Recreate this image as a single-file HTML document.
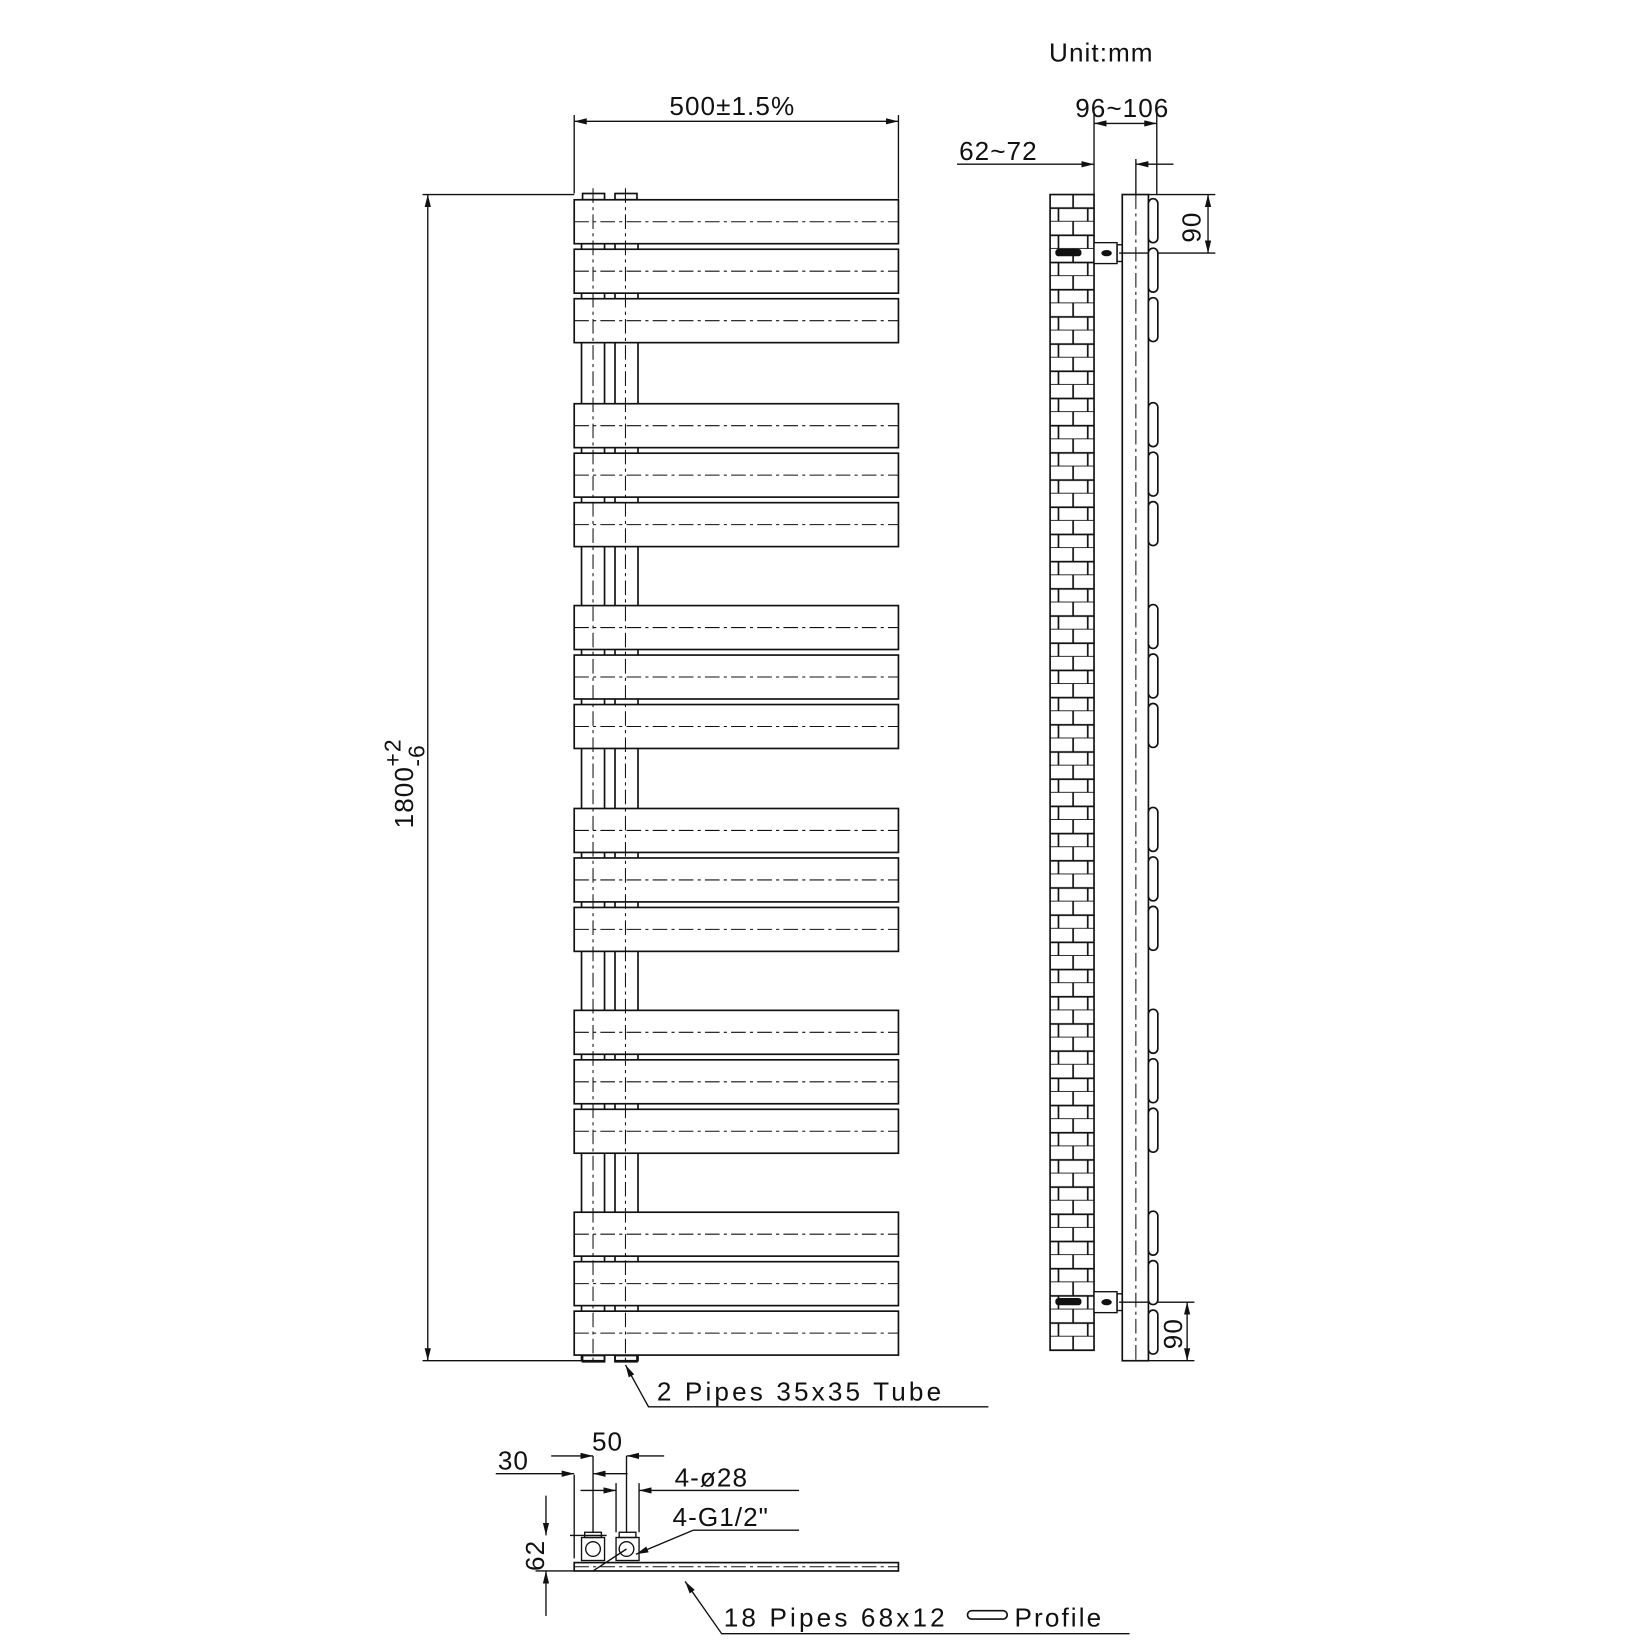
<!DOCTYPE html>
<html><head><meta charset="utf-8"><style>
html,body{margin:0;padding:0;background:#fff;width:1640px;height:1640px;overflow:hidden}
svg{display:block}
text{font-family:"Liberation Sans",sans-serif;font-size:25px;fill:#111;letter-spacing:1px}
</style></head><body>
<svg width="1640" height="1640" viewBox="0 0 1568 1568" xmlns="http://www.w3.org/2000/svg">
<defs>
<marker id="a" viewBox="0 0 12 6" refX="12" refY="3" markerWidth="12" markerHeight="6" orient="auto-start-reverse" markerUnits="userSpaceOnUse"><path d="M0,0 L12,3 L0,6z" fill="#111"/></marker>
<pattern id="brick" x="1004" y="186" width="42" height="26" patternUnits="userSpaceOnUse">
<rect width="42" height="26" fill="#fff"/>
<path d="M0,13H42M0,26H42M22,0V13M8,13V26M36,13V26" stroke="#111" stroke-width="1.6" fill="none"/>
</pattern>
</defs>
<g stroke="#111" stroke-width="1.6" fill="none">
<!-- pipes front -->
<rect x="556" y="191" width="22" height="1110" fill="#fff"/>
<rect x="588" y="191" width="22" height="1110" fill="#fff"/>
<rect x="557" y="185" width="21" height="6"/>
<rect x="588" y="185" width="21" height="6"/>
<rect x="557" y="1296" width="21" height="6"/>
<rect x="588" y="1296" width="21" height="6"/>
</g>
<g id="bars" stroke="#111" stroke-width="1.6" fill="#fff">
</g>
<g stroke="#111" stroke-width="1" fill="none" stroke-dasharray="14,4,3,4">
<line x1="567" y1="180" x2="567" y2="1305"/>
<line x1="598" y1="180" x2="598" y2="1305"/>
</g>
<g stroke="#111" stroke-width="1.3" fill="none">
<!-- 500 dim -->
<line x1="549" y1="110" x2="549" y2="185"/><line x1="859" y1="110" x2="859" y2="190"/>
<line x1="549" y1="116" x2="859" y2="116" marker-start="url(#a)" marker-end="url(#a)"/>
<!-- 1800 -->
<line x1="404" y1="186" x2="549" y2="186"/><line x1="404" y1="1301" x2="556" y2="1301"/>
<line x1="409" y1="186" x2="409" y2="1301" marker-start="url(#a)" marker-end="url(#a)"/>
<!-- leader -->
<polyline points="598,1305 620,1345 945,1345" marker-start="url(#a)"/>
</g>
<text x="640" y="110">500±1.5%</text>
<text transform="translate(395,792) rotate(-90)">1800</text>
<text transform="translate(383,733) rotate(-90)" style="font-size:22px">+2</text>
<text transform="translate(406,733) rotate(-90)" style="font-size:22px">-6</text>
<text x="628" y="1339" style="letter-spacing:3px">2 Pipes 35x35 Tube</text>

<!-- side view -->
<text x="1003" y="59">Unit:mm</text>
<text x="1028" y="112">96~106</text>
<text x="917" y="153">62~72</text>
<rect x="1004" y="186" width="42" height="1105" fill="url(#brick)" stroke="#111" stroke-width="1.6"/>
<g stroke="#111" stroke-width="1.3" fill="none">
<line x1="1046" y1="108" x2="1046" y2="186"/><line x1="1106" y1="108" x2="1106" y2="186"/>
<line x1="1046" y1="118" x2="1106" y2="118" marker-start="url(#a)" marker-end="url(#a)"/>
<line x1="915" y1="157" x2="1046" y2="157" marker-end="url(#a)"/>
<line x1="1122" y1="157" x2="1086" y2="157" marker-end="url(#a)"/>
<line x1="1086" y1="152" x2="1086" y2="186"/>
<rect x="1073" y="186" width="25" height="1115" stroke-width="1.6" fill="#fff"/>
<line x1="1086" y1="186" x2="1086" y2="1301" stroke-dasharray="14,4,3,4" stroke-width="1"/>
<!-- 90 dims -->
<line x1="1098" y1="186" x2="1162" y2="186"/><line x1="1070" y1="242" x2="1162" y2="242"/>
<line x1="1155" y1="186" x2="1155" y2="242" marker-start="url(#a)" marker-end="url(#a)"/>
<line x1="1070" y1="1245" x2="1142" y2="1245"/><line x1="1098" y1="1301" x2="1142" y2="1301"/>
<line x1="1135" y1="1245" x2="1135" y2="1301" marker-start="url(#a)" marker-end="url(#a)"/>
<!-- brackets -->
<rect x="1046" y="232" width="22" height="20" fill="#fff"/>
<rect x="1068" y="234" width="5" height="16"/>
<rect x="1046" y="1235" width="22" height="20" fill="#fff"/>
<rect x="1068" y="1237" width="5" height="16"/>
</g>
<g fill="#111">
<rect x="1009" y="238" width="25" height="7" rx="3"/>
<ellipse cx="1058" cy="242" rx="5" ry="3"/>
<rect x="1009" y="1241" width="25" height="7" rx="3"/>
<ellipse cx="1058" cy="1245" rx="5" ry="3"/>
</g>
<g id="ovals" stroke="#111" stroke-width="1.6" fill="#fff"></g>
<text transform="translate(1148,232) rotate(-90)">90</text>
<text transform="translate(1130,1290) rotate(-90)">90</text>

<!-- bottom view -->
<g stroke="#111" stroke-width="1.3" fill="none">
<rect x="549" y="1494" width="310" height="8" stroke-width="1.6"/>
<line x1="549" y1="1498" x2="859" y2="1498" stroke-dasharray="14,4,3,4" stroke-width="1"/>
<rect x="556" y="1470" width="22" height="22" fill="#fff"/><rect x="559" y="1465" width="16" height="5"/>
<rect x="589" y="1470" width="22" height="22" fill="#fff"/><rect x="592" y="1465" width="16" height="5"/>
<circle cx="567" cy="1481" r="7"/><circle cx="599" cy="1481" r="7"/>
<line x1="567" y1="1392" x2="567" y2="1465"/><line x1="599" y1="1392" x2="599" y2="1465"/>
<line x1="549" y1="1410" x2="549" y2="1490"/><line x1="611" y1="1418" x2="611" y2="1465"/>
<line x1="589" y1="1418" x2="589" y2="1465"/>
<line x1="527" y1="1392" x2="567" y2="1392" marker-end="url(#a)"/>
<line x1="635" y1="1392" x2="599" y2="1392" marker-end="url(#a)"/>
<line x1="474" y1="1409" x2="549" y2="1409" marker-end="url(#a)"/>
<line x1="600" y1="1409" x2="567" y2="1409" marker-end="url(#a)"/>
<line x1="555" y1="1425" x2="589" y2="1425" marker-end="url(#a)"/>
<line x1="764" y1="1425" x2="611" y2="1425" marker-end="url(#a)"/>
<line x1="764" y1="1463" x2="663" y2="1463"/>
<line x1="663" y1="1463" x2="608" y2="1486" marker-end="url(#a)"/>
<line x1="599" y1="1481" x2="567" y2="1502"/>
<line x1="545" y1="1468" x2="580" y2="1468"/>
<line x1="512" y1="1502" x2="549" y2="1502"/>
<line x1="522" y1="1430" x2="522" y2="1468" marker-end="url(#a)"/>
<line x1="522" y1="1545" x2="522" y2="1502" marker-end="url(#a)"/>
<polyline points="655,1512 690,1562 1080,1562" marker-start="url(#a)"/>
</g>
<text x="476" y="1405">30</text>
<text x="566" y="1387">50</text>
<text x="645" y="1421">4-ø28</text>
<text x="643" y="1459">4-G1/2"</text>
<text transform="translate(520,1502) rotate(-90)">62</text>
<text x="692" y="1555" style="letter-spacing:3px">18 Pipes 68x12</text>
<rect x="925" y="1540" width="38" height="8" rx="4" fill="none" stroke="#111" stroke-width="1.6"/>
<text x="970" y="1555" style="letter-spacing:2px">Profile</text>
</svg>
<script>
(function(){
var ns="http://www.w3.org/2000/svg";
var bars=document.getElementById("bars"),ov=document.getElementById("ovals");
var starts=[191,386,579,773,966,1159];
starts.forEach(function(s){for(var i=0;i<3;i++){var y=s+i*47.3;
var r=document.createElementNS(ns,"rect");r.setAttribute("x",549);r.setAttribute("y",y);r.setAttribute("width",310);r.setAttribute("height",42);bars.appendChild(r);
var l=document.createElementNS(ns,"line");l.setAttribute("x1",549);l.setAttribute("x2",859);l.setAttribute("y1",y+21);l.setAttribute("y2",y+21);l.setAttribute("stroke-dasharray","14,4,3,4");l.setAttribute("stroke-width","1");bars.appendChild(l);
var e=document.createElementNS(ns,"rect");e.setAttribute("x",1098);e.setAttribute("y",y-1);e.setAttribute("width",9);e.setAttribute("height",42);e.setAttribute("rx",4.5);ov.appendChild(e);
}});
})();
</script>
</body></html>
